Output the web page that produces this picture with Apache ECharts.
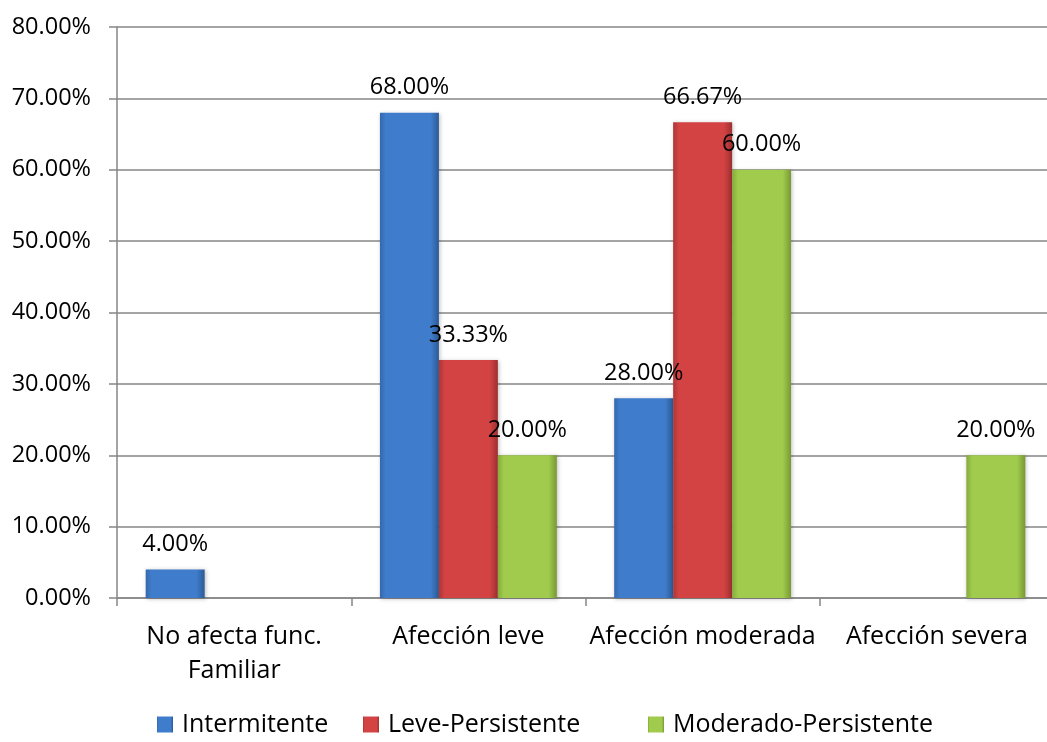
<!DOCTYPE html>
<html>
<head>
<meta charset="utf-8">
<script src="https://cdn.jsdelivr.net/npm/echarts@6/dist/echarts.min.js"></script>
<style>
  html, body { margin: 0; padding: 0; background: #ffffff; }
  #chart { width: 1047px; height: 742px; }
</style>
</head>
<body>
<div id="chart"></div>
<script>
// Categories on the horizontal axis
const categories = ['No afecta func.\nFamiliar', 'Afección leve', 'Afección moderada', 'Afección severa'];

// Series values in percent (null = no bar)
const seriesNames = ['Intermitente', 'Leve-Persistente', 'Moderado-Persistente'];
const intermitente = [4.00, 68.00, 28.00, null];
const levePersistente = [null, 33.33, 66.67, null];
const moderadoPersistente = [null, 20.00, 60.00, 20.00];

// Value axis range
const yMin = 0;
const yMax = 80;
const yStep = 10;

const FONT = 'Open Sans';
const NUM_SIZE = 23.5;   // numbers: tick labels and value labels
const TEXT_SIZE = 25;    // words: category names and legend

// Horizontal gradient giving the bars a bevelled, rounded look
function barFill(edgeL, mid, edgeR) {
  return new echarts.graphic.LinearGradient(0, 0, 1, 0, [
    { offset: 0, color: edgeL },
    { offset: 0.1, color: mid },
    { offset: 0.86, color: mid },
    { offset: 1, color: edgeR }
  ]);
}

const palette = [
  { fill: barFill('#3468ad', '#3f7dcc', '#2b5a96'), solid: '#3f7dcc' },
  { fill: barFill('#ad3535', '#d44343', '#9e2f2f'), solid: '#d44343' },
  { fill: barFill('#86aa3c', '#a0cb4c', '#789834'), solid: '#9fca4b' }
];

function makeSeries(name, data, idx) {
  return {
    name: name,
    type: 'bar',
    data: data,
    barGap: '0%',
    barCategoryGap: '24.5%',
    itemStyle: {
      color: palette[idx].fill,
      shadowColor: 'rgba(0,0,0,0.25)',
      shadowBlur: 4,
      shadowOffsetX: 1,
      shadowOffsetY: 1
    },
    label: {
      show: true,
      position: 'top',
      distance: 13,
      fontFamily: FONT,
      fontSize: NUM_SIZE,
      color: '#000000',
      formatter: p => p.value.toFixed(2) + '%'
    }
  };
}

// One legend entry per series, placed individually
const legendLefts = [157, 363, 648];
const legends = seriesNames.map((name, i) => ({
  data: [name],
  left: legendLefts[i],
  top: 712,
  itemWidth: 16,
  itemHeight: 16,
  itemGap: 0,
  icon: 'rect',
  padding: 0,
  textStyle: { fontFamily: FONT, fontSize: TEXT_SIZE, color: '#000000', padding: [0, 0, 0, 4] }
}));

const chart = echarts.init(document.getElementById('chart'), null, { renderer: 'canvas' });

chart.setOption({
  backgroundColor: '#ffffff',
  animation: false,
  color: palette.map(p => p.solid),
  // the plot runs slightly past the right edge of the canvas
  grid: { left: 117, width: 937, top: 27, bottom: 144, containLabel: false, outerBoundsMode: 'none' },
  legend: legends,
  xAxis: {
    type: 'category',
    data: categories,
    axisLine: { lineStyle: { color: '#868686', width: 1.5 } },
    axisTick: { show: true, length: 8, lineStyle: { color: '#868686', width: 1.5 } },
    axisLabel: {
      fontFamily: FONT,
      fontSize: TEXT_SIZE,
      color: '#000000',
      margin: 22,
      lineHeight: 34,
      interval: 0
    }
  },
  yAxis: {
    type: 'value',
    min: yMin,
    max: yMax,
    interval: yStep,
    axisLine: { show: true, lineStyle: { color: '#868686', width: 1.5 } },
    axisTick: { show: true, length: 8, lineStyle: { color: '#868686', width: 1.5 } },
    splitLine: { lineStyle: { color: '#868686', width: 1.5 } },
    axisLabel: {
      fontFamily: FONT,
      fontSize: NUM_SIZE,
      color: '#000000',
      margin: 26,
      formatter: v => v.toFixed(2) + '%'
    }
  },
  series: [
    makeSeries(seriesNames[0], intermitente, 0),
    makeSeries(seriesNames[1], levePersistente, 1),
    makeSeries(seriesNames[2], moderadoPersistente, 2)
  ]
});
</script>
</body>
</html>
